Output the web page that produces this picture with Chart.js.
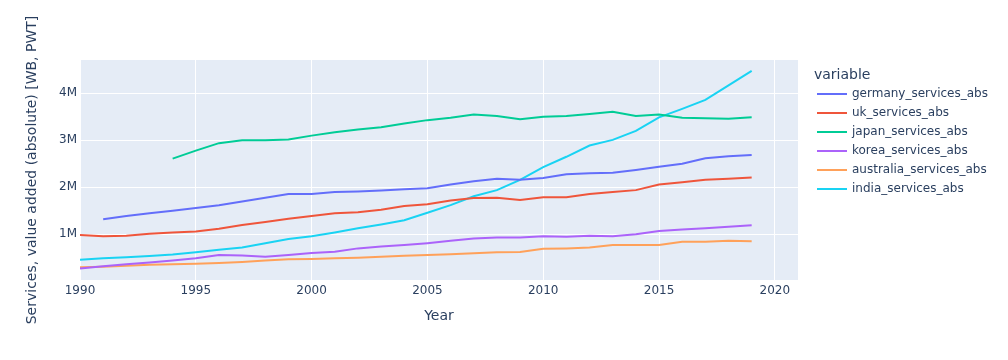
<!DOCTYPE html>
<html>
<head>
<meta charset="utf-8">
<script src="https://cdn.jsdelivr.net/npm/chart.js@4.4.1/dist/chart.umd.min.js"></script>
<style>
html,body{margin:0;padding:0;background:#fff;}
#wrap{position:relative;width:1008px;height:360px;}
#legend{position:absolute;left:814px;top:64px;font-family:"DejaVu Sans",sans-serif;color:#2a3f5f;}
#legend .ttl{font-size:14px;line-height:20px;height:20px;}
#legend .item{position:relative;height:19px;line-height:19px;font-size:12px;padding-left:38px;white-space:nowrap;}
#legend .sw{position:absolute;left:3px;top:8.5px;width:30px;height:2px;}
</style>
</head>
<body>
<div id="wrap">
<canvas id="c" width="1008" height="360"></canvas>
<div id="legend"></div>
</div>
<script>
const years = [1990,1991,1992,1993,1994,1995,1996,1997,1998,1999,2000,2001,2002,2003,2004,2005,2006,2007,2008,2009,2010,2011,2012,2013,2014,2015,2016,2017,2018,2019];
const seriesNames = ["germany_services_abs","uk_services_abs","japan_services_abs","korea_services_abs","australia_services_abs","india_services_abs"];
const seriesColors = ["#636efa","#EF553B","#00cc96","#ab63fa","#FFA15A","#19d3f3"];
// values in millions
const germany = [null,1.32,1.39,1.45,1.50,1.56,1.62,1.70,1.78,1.86,1.86,1.90,1.91,1.93,1.96,1.98,2.06,2.13,2.18,2.16,2.20,2.28,2.30,2.31,2.37,2.44,2.50,2.62,2.66,2.69];
const uk = [0.985,0.96,0.97,1.01,1.04,1.06,1.12,1.20,1.26,1.33,1.39,1.45,1.47,1.52,1.60,1.64,1.72,1.77,1.78,1.73,1.79,1.79,1.86,1.90,1.94,2.06,2.11,2.16,2.18,2.21];
const japan = [null,null,null,null,2.61,2.78,2.94,3.00,3.00,3.02,3.10,3.17,3.23,3.28,3.36,3.43,3.48,3.55,3.52,3.45,3.50,3.52,3.56,3.61,3.52,3.55,3.48,3.47,3.46,3.49];
const korea = [0.27,0.32,0.36,0.40,0.44,0.49,0.56,0.55,0.52,0.56,0.60,0.63,0.70,0.74,0.77,0.81,0.86,0.91,0.93,0.93,0.96,0.95,0.97,0.96,1.00,1.07,1.10,1.13,1.16,1.19];
const australia = [0.30,0.31,0.33,0.35,0.36,0.375,0.39,0.41,0.44,0.47,0.475,0.49,0.50,0.52,0.545,0.56,0.575,0.595,0.62,0.625,0.69,0.70,0.72,0.77,0.77,0.77,0.84,0.84,0.86,0.85];
const india = [0.46,0.49,0.51,0.54,0.57,0.62,0.67,0.72,0.81,0.90,0.96,1.04,1.13,1.21,1.30,1.46,1.62,1.81,1.94,2.16,2.43,2.65,2.89,3.01,3.20,3.49,3.67,3.86,4.17,4.48];
const xTicks = [1990,1995,2000,2005,2010,2015,2020];
const yTicks = [1000000,2000000,3000000,4000000];

const allSeries = [germany,uk,japan,korea,australia,india];
const datasets = allSeries.map((s,i)=>({
  label: seriesNames[i],
  data: years.map((y,j)=>({x:y, y: s[j]===null?null:s[j]*1e6})),
  borderColor: seriesColors[i],
  backgroundColor: seriesColors[i],
  borderWidth: 2,
  pointRadius: 0,
  tension: 0,
  fill: false
}));

const plotBg = {
  id:'plotBg',
  beforeDraw(chart){
    const {ctx, chartArea:a} = chart;
    ctx.save();
    ctx.fillStyle = '#E5ECF6';
    ctx.fillRect(a.left, a.top, a.right-a.left, a.bottom-a.top);
    ctx.restore();
  }
};

const FF = '"DejaVu Sans", sans-serif';
const font = {family:FF, size:12};
new Chart(document.getElementById('c'), {
  type:'line',
  data:{datasets},
  plugins:[plotBg],
  options:{
    responsive:false,
    animation:false,
    layout:{padding:{left:0,top:60,right:210,bottom:0}},
    plugins:{legend:{display:false}, tooltip:{enabled:false}},
    scales:{
      x:{
        type:'linear', min:1990, max:2021,
        afterFit(s){ s.height = 80; },
        afterBuildTicks(s){ s.ticks = xTicks.map(v=>({value:v})); },
        ticks:{color:'#2a3f5f', font, padding:4, maxRotation:0, callback:v=>String(v)},
        grid:{color:'#ffffff', lineWidth:1, drawTicks:false},
        border:{display:false},
        title:{display:true, text:'Year', color:'#2a3f5f', font:{family:FF, size:14}, padding:{top:0,bottom:35}}
      },
      y:{
        type:'linear', min:27000, max:4710000,
        afterFit(s){ s.width = 80; },
        afterBuildTicks(s){ s.ticks = yTicks.map(v=>({value:v})); },
        ticks:{color:'#2a3f5f', font, padding:3, callback:v=>(v/1e6)+'M'},
        grid:{color:'#ffffff', lineWidth:1, drawTicks:false},
        border:{display:false},
        title:{display:true, text:'Services, value added (absolute) [WB, PWT]', color:'#2a3f5f', font:{family:FF, size:14}, padding:{top:24,bottom:0}}
      }
    }
  }
});

const lg = document.getElementById('legend');
let html = '<div class="ttl">variable</div>';
seriesNames.forEach((n,i)=>{ html += '<div class="item"><span class="sw" style="background:'+seriesColors[i]+'"></span>'+n+'</div>'; });
lg.innerHTML = html;
</script>
</body>
</html>
